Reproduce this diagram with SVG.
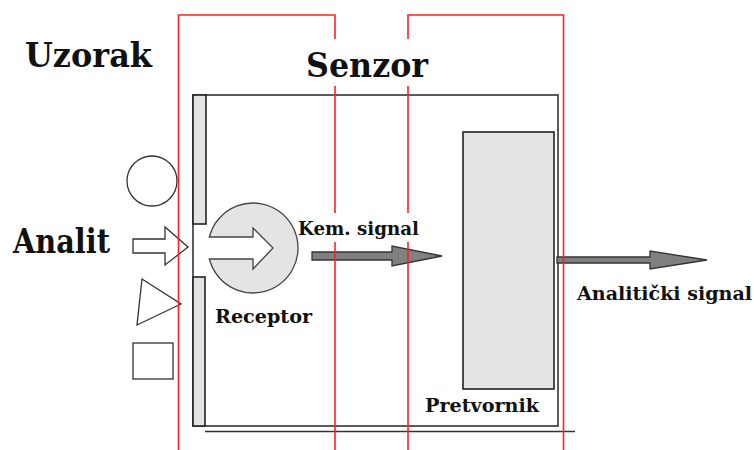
<svg xmlns="http://www.w3.org/2000/svg" width="754" height="450" viewBox="0 0 754 450">
<style>
.t{font-family:"DejaVu Serif","Liberation Serif",serif;font-weight:bold;fill:#111}
.big{font-size:34px}
.sm{font-size:18px}
.red{stroke:#ff2020;stroke-width:1.6;fill:none}
.outline{fill:#fff;stroke:#333;stroke-width:1.3}
.gray{fill:#e4e4e4;stroke:#222;stroke-width:1.6}
.arr{fill:#808080;stroke:#333;stroke-width:1.3}
</style>
<rect width="754" height="450" fill="#fff"/>
<g id="sensor-box">
<rect x="193" y="95" width="365" height="331" fill="#fff" stroke="#333" stroke-width="1.6"/>
<line x1="205" y1="431.500" x2="575" y2="431.500" stroke="#333" stroke-width="1.4"/>
<rect class="gray" x="193" y="95" width="13" height="129"/>
<rect class="gray" x="193" y="277" width="12" height="149"/>
</g>
<g id="uzorak">
<text class="t big" x="25" y="67" textLength="127" lengthAdjust="spacingAndGlyphs">Uzorak</text>
</g>
<g id="analit">
<text class="t big" x="13" y="253" textLength="97" lengthAdjust="spacingAndGlyphs">Analit</text>
</g>
<g id="circle"><circle class="outline" cx="152" cy="181" r="25"/></g>
<g id="analit-arrow"><polygon class="outline" points="133,239 165,239 165,227 188,247 165,265 165,253 133,253"/></g>
<g id="triangle"><polygon class="outline" points="142,279 181,304 137,325"/></g>
<g id="square"><rect class="outline" x="133" y="343" width="40" height="36"/></g>
<g id="receptor">
<path d="M 209.400 237 L 253 237 L 253 228 L 273 248 L 253 269 L 253 259 L 209.400 259 A 45 45 0 1 0 209.400 237 Z" fill="#e4e4e4" stroke="#444" stroke-width="1.3"/>
<text class="t sm" x="215" y="323" textLength="97" lengthAdjust="spacingAndGlyphs">Receptor</text>
</g>
<g id="senzor-label">
<text class="t big" x="306" y="77" textLength="122" lengthAdjust="spacingAndGlyphs">Senzor</text>
</g>
<g id="pretvornik">
<rect class="gray" x="463" y="132" width="91" height="257"/>
<text class="t sm" x="425" y="412" textLength="114" lengthAdjust="spacingAndGlyphs">Pretvornik</text>
</g>
<g id="connectors">
<polygon class="arr" points="312,252 392,252 392,246 442,256 392,266 392,260 312,260"/>
<polygon class="arr" points="557,257 650,257 650,251 707,260 650,269 650,263 557,263"/>
</g>
<g id="labels">
<text class="t sm" x="298" y="235" textLength="121" lengthAdjust="spacingAndGlyphs">Kem. signal</text>
<text class="t sm" x="577" y="300" textLength="175" lengthAdjust="spacingAndGlyphs">Analitički signal</text>
</g>
<g id="red-frames">
<path class="red" d="M 178.500 450 L 178.500 15 L 335 15 L 335 39 M 335 86 L 335 213 M 335 242 L 335 450"/>
<path class="red" d="M 408 39 L 408 15 L 563.500 15 L 563.500 450 M 408 86 L 408 213 M 408 242 L 408 450"/>
</g>
</svg>
